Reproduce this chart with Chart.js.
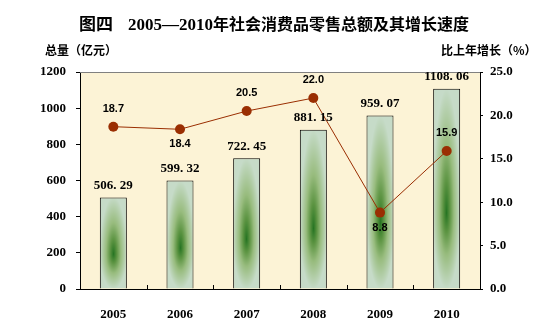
<!DOCTYPE html>
<html>
<head>
<meta charset="utf-8">
<script src="https://cdn.jsdelivr.net/npm/chart.js@4/dist/chart.umd.min.js"></script>
<style>
  html, body { margin: 0; padding: 0; background: #ffffff; }
  #wrap { width: 560px; height: 327px; position: relative; }
</style>
</head>
<body>
<div id="wrap"><canvas id="c" width="560" height="327"></canvas></div>
<script>
// Retail sales of consumer goods, 2005-2010
const years = ['2005', '2006', '2007', '2008', '2009', '2010'];
const totalSales = [506.29, 599.32, 722.45, 881.15, 959.07, 1108.06];   // 亿元
const growthRate = [18.7, 18.4, 20.5, 22.0, 8.8, 15.9];                 // %
const growthLabelSide = ['above', 'below', 'above', 'above', 'below', 'above'];
const amountTicks = [0, 200, 400, 600, 800, 1000, 1200];
const rateTicks = [0, 5, 10, 15, 20, 25];

const titleLead = '图四';
const titleYears = '2005—2010';
const titleRest = '年社会消费品零售总额及其增长速度';
const leftAxisTitle = '总量（亿元）';
const rightAxisTitle = '比上年增长（%）';

const SERIF = "'Liberation Serif', 'Times New Roman', serif";
const CJK = "'Noto Sans CJK SC', 'Noto Sans CJK JP', sans-serif";
const BAR_FRAC = 0.405;
const LINE_COLOR = '#9a2e02';

// colour ramp for the bar fill, centre (t=0) to edge (t=1)
const ramp = [
  [0.00, [38, 116, 34]],
  [0.25, [92, 148, 66]],
  [0.55, [152, 188, 126]],
  [1.00, [198, 219, 200]]
];
function rampColor(t) {
  for (let i = 1; i < ramp.length; i++) {
    if (t <= ramp[i][0]) {
      const a = ramp[i - 1], b = ramp[i];
      const k = (t - a[0]) / (b[0] - a[0]);
      return a[1].map((c, j) => c + (b[1][j] - c) * k);
    }
  }
  return ramp[ramp.length - 1][1];
}

// builds a centre-out gradient pattern sized to one bar
function barFill(ctx) {
  const chart = ctx.chart;
  if (!chart.chartArea || !chart.scales.x || !chart.scales.y) return '#8cb070';
  const xs = chart.scales.x, ys = chart.scales.y;
  const v = ctx.raw;
  const w = Math.max(2, Math.round(xs.width / years.length * BAR_FRAC));
  const top = Math.round(ys.getPixelForValue(v));
  const bot = Math.round(ys.getPixelForValue(0));
  const h = Math.max(2, bot - top);
  const left = Math.round(xs.getPixelForValue(ctx.dataIndex) - w / 2);
  const off = document.createElement('canvas');
  off.width = w; off.height = h;
  const o = off.getContext('2d');
  const img = o.createImageData(w, h);
  const hw = w / 2, cy = h * 0.62;
  for (let y = 0; y < h; y++) {
    const py = y + 0.5;
    const dy = py < cy ? (cy - py) / cy : (py - cy) / (h - cy);
    for (let x = 0; x < w; x++) {
      const dx = Math.abs(x + 0.5 - hw) / hw;
      const t = Math.min(1, Math.sqrt(dx * dx + dy * dy));
      const c = rampColor(t);
      const p = (y * w + x) * 4;
      img.data[p] = c[0]; img.data[p + 1] = c[1]; img.data[p + 2] = c[2]; img.data[p + 3] = 255;
    }
  }
  o.putImageData(img, 0, 0);
  const pat = chart.ctx.createPattern(off, 'no-repeat');
  pat.setTransform(new DOMMatrix([1, 0, 0, 1, left, top]));
  return pat;
}

const decor = {
  id: 'decor',
  beforeDraw(chart) {
    const { ctx, chartArea: a } = chart;
    ctx.save();
    ctx.fillStyle = '#fcf3d6';
    ctx.fillRect(a.left, a.top, a.right - a.left, a.bottom - a.top);
    ctx.restore();
  },
  afterDraw(chart) {
    const { ctx, chartArea: a } = chart;
    ctx.save();
    // top edge of the plot frame
    ctx.strokeStyle = '#808080';
    ctx.lineWidth = 1;
    ctx.beginPath();
    ctx.moveTo(a.left, a.top + 0.5); ctx.lineTo(a.right, a.top + 0.5);
    ctx.stroke();
    // category separators on the x axis, pointing inward
    ctx.strokeStyle = '#000';
    const cw = (a.right - a.left) / years.length;
    for (let i = 1; i < years.length; i++) {
      const x = Math.round(a.left + cw * i) + 0.5;
      ctx.beginPath(); ctx.moveTo(x, a.bottom); ctx.lineTo(x, a.bottom - 4); ctx.stroke();
    }

    // value labels on the bars
    const barMeta = chart.getDatasetMeta(1);
    ctx.fillStyle = '#000';
    ctx.textAlign = 'center';
    ctx.textBaseline = 'middle';
    ctx.font = 'bold 13px ' + SERIF;
    barMeta.data.forEach((el, i) => {
      const txt = totalSales[i].toFixed(2).replace('.', '. ');
      ctx.fillText(txt, el.x, el.y - 12);
    });
    // value labels on the growth line
    const lineMeta = chart.getDatasetMeta(0);
    ctx.font = "bold 11px 'Liberation Sans', Arial, sans-serif";
    lineMeta.data.forEach((el, i) => {
      const dy = growthLabelSide[i] === 'above' ? -18 : 15;
      ctx.fillText(growthRate[i].toFixed(1), el.x, el.y + dy);
    });

    // chart title
    ctx.textAlign = 'left';
    ctx.textBaseline = 'alphabetic';
    let x = 79;
    const base = 30;
    ctx.font = 'bold 17px ' + CJK;
    ctx.fillText(titleLead, x, base);
    x = 128;
    ctx.font = 'bold 17px ' + SERIF;
    ctx.fillText(titleYears, x, base);
    x += ctx.measureText(titleYears).width;
    ctx.font = 'bold 16px ' + CJK;
    ctx.fillText(titleRest, x, base);

    // axis titles
    ctx.font = 'bold 12px ' + CJK;
    ctx.textBaseline = 'middle';
    ctx.fillText(leftAxisTitle, 45, 50);
    ctx.fillText(rightAxisTitle, 441, 50);
    ctx.restore();
  }
};

new Chart(document.getElementById('c'), {
  type: 'bar',
  data: {
    labels: years,
    datasets: [
      {
        type: 'line',
        label: '比上年增长',
        data: growthRate,
        yAxisID: 'y1',
        order: 0,
        borderColor: LINE_COLOR,
        borderWidth: 1,
        pointRadius: 5,
        pointBackgroundColor: LINE_COLOR,
        pointBorderColor: LINE_COLOR,
        pointBorderWidth: 0,
        tension: 0
      },
      {
        type: 'bar',
        label: '总量',
        data: totalSales,
        yAxisID: 'y',
        order: 1,
        backgroundColor: barFill,
        borderColor: '#000',
        borderWidth: 1,
        barPercentage: BAR_FRAC,
        categoryPercentage: 1
      }
    ]
  },
  options: {
    responsive: false,
    animation: false,
    devicePixelRatio: 1,
    layout: { padding: { top: 72, left: 0, right: 0, bottom: 0 } },
    plugins: { legend: { display: false }, tooltip: { enabled: false } },
    scales: {
      x: {
        grid: { display: false },
        border: { display: true, color: '#000', width: 1 },
        ticks: { color: '#000', font: { family: SERIF, size: 13, weight: 'bold' }, padding: 10 },
        afterFit(s) { s.height = 38; }
      },
      y: {
        position: 'left',
        min: amountTicks[0],
        max: amountTicks[amountTicks.length - 1],
        afterBuildTicks(s) { s.ticks = amountTicks.map(v => ({ value: v })); },
        grid: { drawOnChartArea: false, drawTicks: true, tickLength: 4, color: '#000' },
        border: { display: true, color: '#000', width: 1 },
        ticks: {
          color: '#000',
          font: { family: SERIF, size: 13, weight: 'bold' },
          padding: 10,
          callback: v => String(v)
        },
        afterFit(s) { s.width = 80; }
      },
      y1: {
        position: 'right',
        min: rateTicks[0],
        max: rateTicks[rateTicks.length - 1],
        afterBuildTicks(s) { s.ticks = rateTicks.map(v => ({ value: v })); },
        grid: { drawOnChartArea: false, drawTicks: true, tickLength: 3, color: '#000' },
        border: { display: true, color: '#000', width: 1 },
        ticks: {
          color: '#000',
          font: { family: SERIF, size: 13, weight: 'bold' },
          padding: 7,
          callback: v => Number(v).toFixed(1)
        },
        afterFit(s) { s.width = 80; }
      }
    }
  },
  plugins: [decor]
});
</script>
</body>
</html>
